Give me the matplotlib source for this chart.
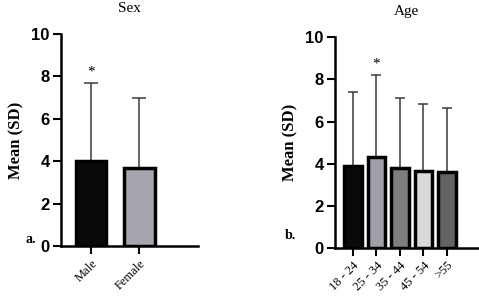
import matplotlib
matplotlib.use("Agg")
import matplotlib.pyplot as plt
import numpy as np

sex_labels = ["Male", "Female"]
sex_means = [4.02, 3.69]
sex_sd = [3.68, 3.31]
sex_colors = ["#0a0a0a", "#a6a6ae"]
sex_sig = [True, False]

age_labels = ["18 - 24", "25 - 34", "35 - 44", "45 - 54", ">55"]
age_means = [3.91, 4.34, 3.79, 3.66, 3.62]
age_sd = [3.48, 3.87, 3.35, 3.18, 3.03]
age_colors = ["#0a0a0a", "#a0a0a8", "#7e7e7e", "#d8d8d8", "#626262"]
age_sig = [False, True, False, False, False]

fig = plt.figure(figsize=(4.79, 2.98), dpi=100)
ax1 = fig.add_axes([0.127, 0.174, 0.286, 0.712])
ax2 = fig.add_axes([0.699, 0.167, 0.299, 0.708])

serif = "Liberation Serif"
sans = "Liberation Sans"

def draw(ax, labels, means, sd, colors, sig, width, xlim, title, letter, cap, lpos):
    x = np.arange(len(labels))
    ax.bar(x, means, width=width, color=colors, edgecolor="black", linewidth=2.5, zorder=2)
    ax.errorbar(x, means, yerr=[np.zeros(len(sd)), sd], fmt="none", ecolor="#3a3a3a",
                elinewidth=1.1, capsize=cap, capthick=1.1, zorder=1)
    for xi, m, s, g in zip(x, means, sd, sig):
        if g:
            ax.text(xi, m + s + 0.2, "*", ha="center", va="bottom", fontsize=11,
                    family=serif)
    ax.set_xlim(*xlim)
    ax.set_ylim(0, 10)
    ax.set_yticks([0, 2, 4, 6, 8, 10])
    ax.set_xticks(x)
    ax.set_xticklabels(labels, rotation=45, ha="right", rotation_mode="anchor",
                       family=serif, fontsize=9)
    for lab in ax.get_yticklabels():
        lab.set_family(sans)
        lab.set_fontweight("bold")
        lab.set_fontsize(12)
    ax.spines["top"].set_visible(False)
    ax.spines["right"].set_visible(False)
    ax.spines["left"].set_linewidth(1.8)
    ax.spines["bottom"].set_linewidth(1.8)
    ax.tick_params(axis="both", width=1.5, length=6, pad=2)
    ax.set_ylabel("Mean (SD)", family=serif, fontweight="bold", fontsize=12, labelpad=5)
    ax.set_title(title, family=serif, fontsize=11, pad=16)
    ax.text(lpos[0], lpos[1], letter, transform=ax.transAxes, family=serif, fontweight="bold",
            fontsize=10, ha="center", va="center")

draw(ax1, sex_labels, sex_means, sex_sd, sex_colors, sex_sig, 0.63, (-0.63, 2.21), "Sex", "a.",
     5, (-0.22, 0.03))
draw(ax2, age_labels, age_means, age_sd, age_colors, age_sig, 0.75, (-0.77, 5.32), "Age", "b.",
     3.5, (-0.31, 0.06))

fig.savefig("out.png", dpi=100)
